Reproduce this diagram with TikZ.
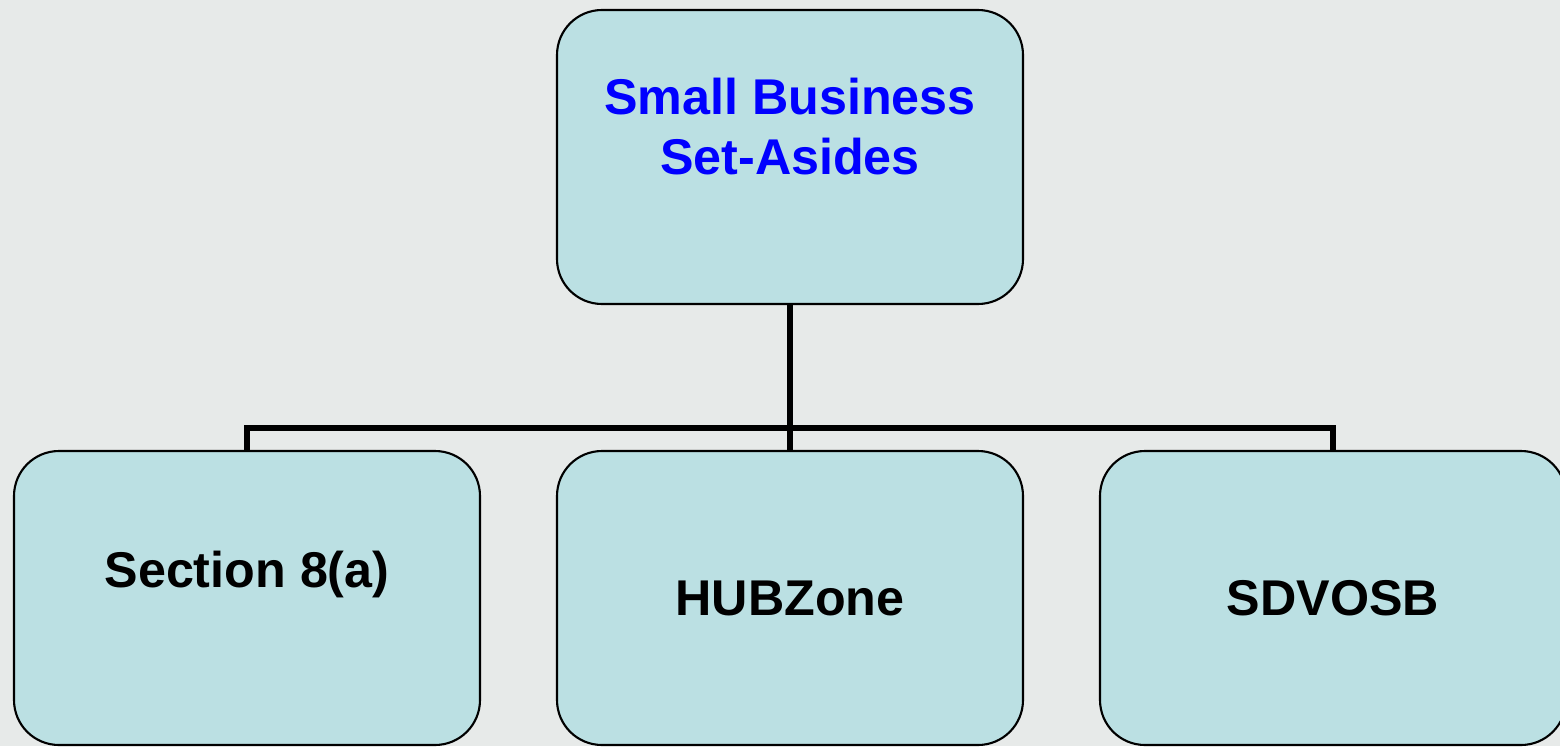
\documentclass[tikz,border=0pt]{standalone}
\usepackage{fontspec}
\setmainfont{Liberation Sans}
\usepackage{tikz}
\usetikzlibrary{shapes.geometric, arrows}
\definecolor{boxfill}{RGB}{187,224,227}
\definecolor{backdrop}{RGB}{231,234,233}
\tikzstyle{box} = [rectangle, rounded corners=0.9cm, draw=black, line width=1.2pt, fill=boxfill, minimum width=9.32cm, minimum height=5.88cm]
\tikzstyle{boxtext} = [font=\fontsize{28.6}{34}\selectfont\bfseries, align=center]
\tikzstyle{line} = [line width=3.2pt]

\begin{document}
\begin{tikzpicture}[node distance=10.86cm]
                \fill [backdrop] (0,0) rectangle (31.2,-14.92);
                \useasboundingbox (0,0) rectangle (31.2,-14.92);

                \node (setasides) [box] at (15.8,-3.14) {};
                \node (hubzone) [box, node distance=8.82cm, below of=setasides] {};
                \node (section) [box, left of=hubzone] {};
                \node (sdvosb) [box, right of=hubzone] {};
                \coordinate (junction) at ([yshift=0.44cm]hubzone.north);

                \draw [line] (setasides) -- (hubzone);
                \draw [line] (section.north) |- (junction) -| (sdvosb.north);

                \node (setasidestext) [boxtext, text=blue] at ([yshift=0.61cm]setasides.center) {Small Business\\Set-Asides};
                \node (sectiontext) [boxtext] at ([yshift=0.48cm]section.center) {Section 8(a)};
                \node (hubzonetext) [boxtext] at (hubzone.center) {HUBZone};
                \node (sdvosbtext) [boxtext] at (sdvosb.center) {SDVOSB};
            \end{tikzpicture}
\end{document}
